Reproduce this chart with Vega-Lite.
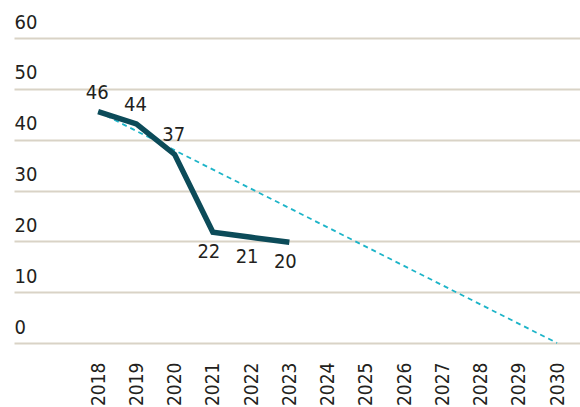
{
  "$schema": "https://vega.github.io/schema/vega-lite/v6.json",
  "width": 566,
  "height": 305,
  "autosize": {"type": "none"},
  "padding": {"left": 14, "top": 38, "right": 0, "bottom": 64},
  "background": "white",
  "config": {
    "view": {"stroke": null},
    "font": "DejaVu Sans Condensed, Liberation Sans, sans-serif",
    "axis": {"labelFont": "DejaVu Sans Condensed, Liberation Sans, sans-serif", "labelFontSize": 20, "labelColor": "#231f20"}
  },
  "datasets": {
    "actual": [
      {"year": 2018, "value": 45.5, "label": "46"},
      {"year": 2019, "value": 43.1, "label": "44"},
      {"year": 2020, "value": 37.1, "label": "37"},
      {"year": 2021, "value": 21.8, "label": "22"},
      {"year": 2022, "value": 20.8, "label": "21"},
      {"year": 2023, "value": 19.8, "label": "20"}
    ],
    "target": [
      {"year": 2018, "value": 45.5},
      {"year": 2030, "value": 0}
    ]
  },
  "layer": [
    {
      "data": {"name": "target"},
      "mark": {"type": "line", "color": "#1db4c8", "strokeWidth": 1.8, "strokeDash": [5, 4]},
      "encoding": {
        "x": {
          "field": "year", "type": "quantitative",
          "scale": {"domain": [2015.8, 2030.6], "nice": false, "zero": false},
          "axis": {
            "title": null, "values": [2018,2019,2020,2021,2022,2023,2024,2025,2026,2027,2028,2029,2030],
            "format": "d", "labelAngle": -90, "grid": false, "domain": false, "ticks": false, "labelFontSize": 19,
            "labelPadding": 19, "labelBaseline": "middle", "labelAlign": "right", "labelFlush": false, "labelOverlap": false
          }
        },
        "y": {
          "field": "value", "type": "quantitative",
          "scale": {"domain": [0, 60], "nice": false},
          "axis": {
            "title": null, "values": [0,10,20,30,40,50,60], "domain": false, "ticks": false,
            "grid": true, "gridColor": "#d9d3c6", "gridWidth": 2,
            "labelAlign": "left", "labelBaseline": "bottom", "labelPadding": 0, "labelOffset": -6, "labelFlush": false
          }
        }
      }
    },
    {
      "data": {"name": "actual"},
      "mark": {"type": "line", "color": "#0c4b59", "strokeWidth": 5.5, "strokeJoin": "miter"},
      "encoding": {
        "x": {"field": "year", "type": "quantitative"},
        "y": {"field": "value", "type": "quantitative"}
      }
    },
    {
      "data": {"name": "actual"},
      "transform": [{"filter": "datum.year <= 2020"}],
      "mark": {"type": "text", "fontSize": 20, "color": "#231f20", "baseline": "bottom", "dy": -9, "dx": -1},
      "encoding": {
        "x": {"field": "year", "type": "quantitative"},
        "y": {"field": "value", "type": "quantitative"},
        "text": {"field": "label"}
      }
    },
    {
      "data": {"name": "actual"},
      "transform": [{"filter": "datum.year > 2020"}],
      "mark": {"type": "text", "fontSize": 20, "color": "#231f20", "baseline": "top", "dy": 10, "dx": -4},
      "encoding": {
        "x": {"field": "year", "type": "quantitative"},
        "y": {"field": "value", "type": "quantitative"},
        "text": {"field": "label"}
      }
    }
  ]
}
